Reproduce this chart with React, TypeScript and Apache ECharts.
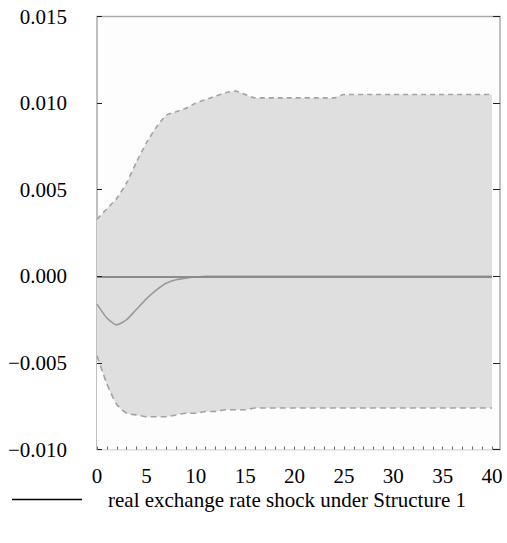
import React, { useEffect, useRef } from "react";
import * as echarts from "echarts";

const periods = [0, 1, 2, 3, 4, 5, 6, 7, 8, 9, 10, 11, 12, 13, 14, 15, 16, 17, 18, 19, 20, 21, 22, 23, 24, 25, 26, 27, 28, 29, 30, 31, 32, 33, 34, 35, 36, 37, 38, 39, 40];

const upperBand = [
  0.0033, 0.0039, 0.0045, 0.0054, 0.0066, 0.0077, 0.0086, 0.0093, 0.0095, 0.0097,
  0.0100, 0.0102, 0.0104, 0.0106, 0.0107, 0.0105, 0.0103, 0.0103, 0.0103, 0.0103,
  0.0103, 0.0103, 0.0103, 0.0103, 0.0103, 0.0105, 0.0105, 0.0105, 0.0105, 0.0105,
  0.0105, 0.0105, 0.0105, 0.0105, 0.0105, 0.0105, 0.0105, 0.0105, 0.0105, 0.0105,
  0.0105,
];

const lowerBand = [
  -0.0046, -0.0062, -0.0074, -0.0079, -0.0080, -0.0081, -0.0081, -0.0081, -0.0080, -0.0079,
  -0.0079, -0.0078, -0.0078, -0.0077, -0.0077, -0.0077, -0.0076, -0.0076, -0.0076, -0.0076,
  -0.0076, -0.0076, -0.0076, -0.0076, -0.0076, -0.0076, -0.0076, -0.0076, -0.0076, -0.0076,
  -0.0076, -0.0076, -0.0076, -0.0076, -0.0076, -0.0076, -0.0076, -0.0076, -0.0076, -0.0076,
  -0.0076,
];

const response = [
  -0.0016, -0.0024, -0.0028, -0.0025, -0.0019, -0.0013, -0.0008, -0.0004, -0.0002, -0.0001,
  -0.00004, 0, 0, 0, 0, 0, 0, 0, 0, 0,
  0, 0, 0, 0, 0, 0, 0, 0, 0, 0,
  0, 0, 0, 0, 0, 0, 0, 0, 0, 0,
  0,
];

const seriesName = "real exchange rate shock under Structure 1";
const yMin = -0.01;
const yMax = 0.015;
const yStep = 0.005;
const xMin = 0;
const xMax = 40;
const xStep = 5;

const FONT = '"Liberation Serif", "Times New Roman", serif';
const PLOT_BG = "#fdfdfd";

const fmtY = (v: number) => {
  const s = Math.abs(v).toFixed(3);
  return v < -1e-9 ? "\u2212" + s : s;
};

export default function App() {
  const ref = useRef<HTMLDivElement>(null);

  useEffect(() => {
    if (!ref.current) return;
    const chart = echarts.init(ref.current, undefined, { renderer: "svg" });

    const pair = (arr: number[]) => periods.map((p, i) => [p, arr[i]]);
    const smooth = 0.2;

    const top = 16.5;
    const bottom = 93.4;

    chart.setOption({
      animation: false,
      backgroundColor: "#ffffff",
      grid: [
        {
          left: 97,
          right: 7,
          top,
          bottom,
          show: true,
          borderColor: "#ababab",
          borderWidth: 1.5,
          backgroundColor: PLOT_BG,
          containLabel: false,
          z: 0,
        },
        {
          left: 97,
          right: 15,
          top,
          bottom,
          containLabel: false,
        },
      ],
      xAxis: [
        {
          type: "value",
          gridIndex: 0,
          min: 0,
          max: 1,
          show: false,
        },
        {
          type: "value",
          gridIndex: 1,
          min: xMin,
          max: xMax,
          interval: xStep,
          z: 20,
          axisLine: { show: false, onZero: false },
          axisTick: {
            show: true,
            inside: true,
            length: 3,
            lineStyle: { color: "#666", width: 1 },
          },
          minorTick: {
            show: true,
            splitNumber: 5,
            length: 3,
            lineStyle: { color: "#666", width: 1 },
          },
          splitLine: { show: false },
          axisLabel: {
            margin: 16,
            color: "#000",
            fontFamily: FONT,
            fontSize: 21,
            formatter: (v: number) => String(v),
          },
        },
      ],
      yAxis: [
        {
          type: "value",
          gridIndex: 0,
          position: "right",
          min: yMin,
          max: yMax,
          interval: yStep,
          z: 20,
          axisLine: { show: false, onZero: false },
          axisTick: {
            show: true,
            inside: true,
            length: 7,
            lineStyle: { color: "#222", width: 1 },
          },
          axisLabel: { show: false },
          splitLine: { show: false },
        },
        {
          type: "value",
          gridIndex: 1,
          position: "left",
          min: yMin,
          max: yMax,
          interval: yStep,
          z: 20,
          axisLine: { show: false, onZero: false },
          axisTick: {
            show: true,
            inside: true,
            length: 5,
            lineStyle: { color: "#222", width: 1 },
          },
          splitLine: { show: false },
          axisLabel: {
            margin: 30,
            color: "#000",
            fontFamily: FONT,
            fontSize: 21,
            formatter: fmtY,
          },
        },
      ],
      legend: {
        show: true,
        left: 7,
        top: 484,
        itemWidth: 70,
        itemHeight: 1.5,
        textStyle: {
          color: "#000",
          fontFamily: FONT,
          fontSize: 21,
          padding: [0, 0, 0, 21],
        },
        data: [
          {
            name: seriesName,
            icon: "rect",
            itemStyle: { color: "#000" },
          },
        ],
      },
      series: [
        {
          name: "band-upper-fill",
          type: "line",
          xAxisIndex: 1,
          yAxisIndex: 1,
          data: pair(upperBand),
          smooth,
          symbol: "none",
          lineStyle: { opacity: 0 },
          areaStyle: { color: "#dfdfdf", opacity: 1, origin: "start" },
          silent: true,
          z: 1,
        },
        {
          name: "band-lower-mask",
          type: "line",
          xAxisIndex: 1,
          yAxisIndex: 1,
          data: pair(lowerBand),
          smooth,
          symbol: "none",
          lineStyle: { opacity: 0 },
          areaStyle: { color: PLOT_BG, opacity: 1, origin: "start" },
          silent: true,
          z: 2,
        },
        {
          name: "upper",
          type: "line",
          xAxisIndex: 1,
          yAxisIndex: 1,
          data: pair(upperBand),
          smooth,
          symbol: "none",
          lineStyle: { color: "#a2a2a2", width: 1.6, type: [5, 4] },
          silent: true,
          z: 3,
        },
        {
          name: "lower",
          type: "line",
          xAxisIndex: 1,
          yAxisIndex: 1,
          data: pair(lowerBand),
          smooth,
          symbol: "none",
          lineStyle: { color: "#a2a2a2", width: 1.6, type: [6, 4] },
          silent: true,
          z: 3,
        },
        {
          name: seriesName,
          type: "line",
          xAxisIndex: 1,
          yAxisIndex: 1,
          data: pair(response),
          smooth,
          symbol: "none",
          lineStyle: { color: "#9a9a9a", width: 1.6 },
          silent: true,
          z: 4,
          markLine: {
            silent: true,
            symbol: "none",
            label: { show: false },
            lineStyle: { color: "#8c8c8c", width: 2, type: "solid" },
            data: [{ yAxis: 0 }],
          },
        },
      ],
    });

    return () => chart.dispose();
  }, []);

  return <div ref={ref} style={{ width: 507, height: 543, position: "absolute", left: 0, top: 0 }} />;
}
